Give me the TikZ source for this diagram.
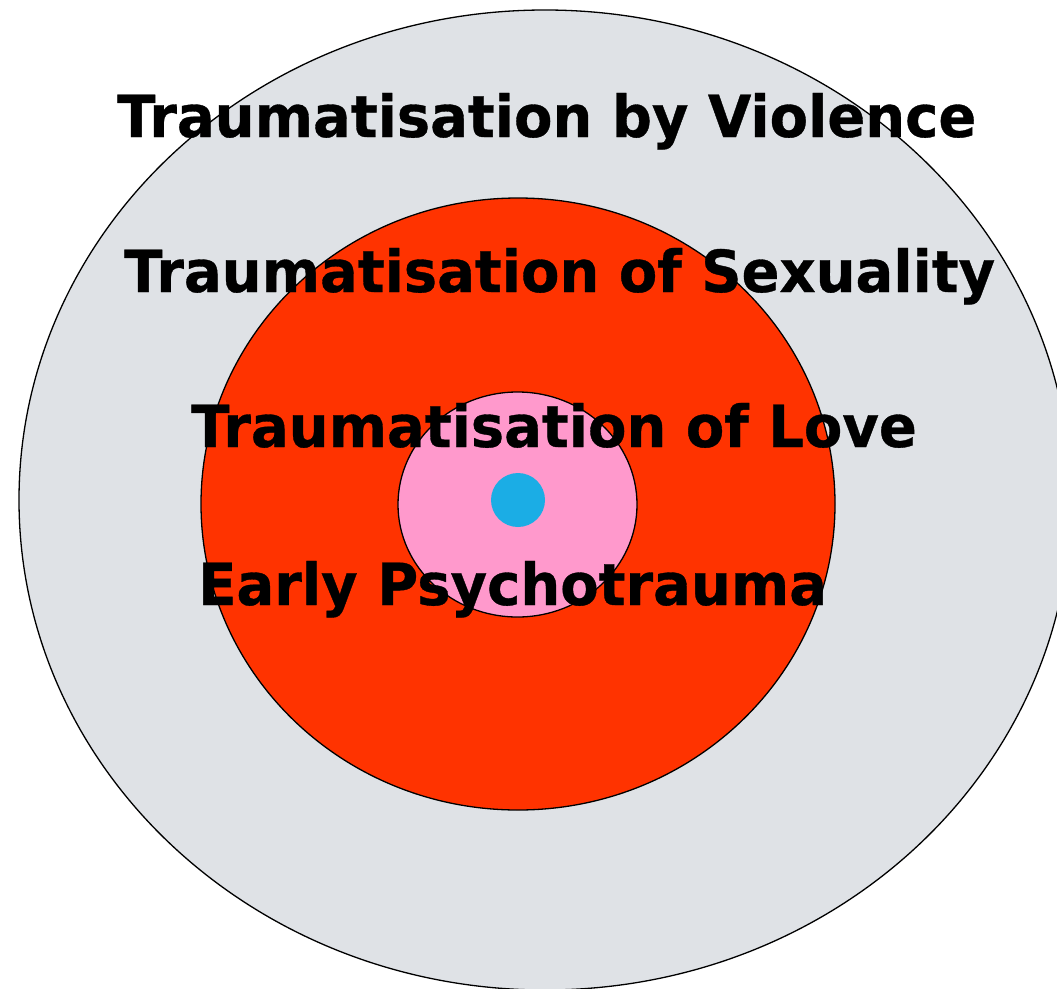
\documentclass[tikz,border=0pt]{standalone}
\usepackage{fontspec}
\setmainfont{DejaVu Sans}
\newfontfamily\lblfont[FakeStretch=0.966,FakeBold=0.6]{DejaVu Sans Bold}
\definecolor{outergray}{HTML}{DFE2E6}
\definecolor{redring}{HTML}{FF3300}
\definecolor{pinkcore}{HTML}{FF99CC}
\definecolor{bluedot}{HTML}{1BADE5}
\begin{document}
\begin{tikzpicture}[x=1pt,y=-1pt,
  ring/.style={draw=black,line width=1.3pt},
  lbl/.style={anchor=base west,inner sep=0pt,font=\lblfont\fontsize{58}{60}\selectfont}]
\useasboundingbox (0,0) rectangle (1057,988);
\begin{scope}
\clip (0,0) rectangle (1057,988);
\path[ring,fill=outergray] (545,500) ellipse [x radius=526, y radius=490];
\end{scope}
\path[ring,fill=redring] (518,504) ellipse [x radius=317, y radius=306];
\path[ring,fill=pinkcore] (517.5,504.5) ellipse [x radius=119.5, y radius=112.5];
\fill[bluedot] (518,500) circle [radius=27];
\node[lbl] (violence) at (117,137) {Traumatisation by Violence};
\node[lbl] (sexuality) at (124,292) {Traumatisation of Sexuality};
\node[lbl] (love) at (191,447) {Traumatisation of Love};
\node[lbl] (early) at (198,605) {Early Psychotrauma};
\end{tikzpicture}
\end{document}
